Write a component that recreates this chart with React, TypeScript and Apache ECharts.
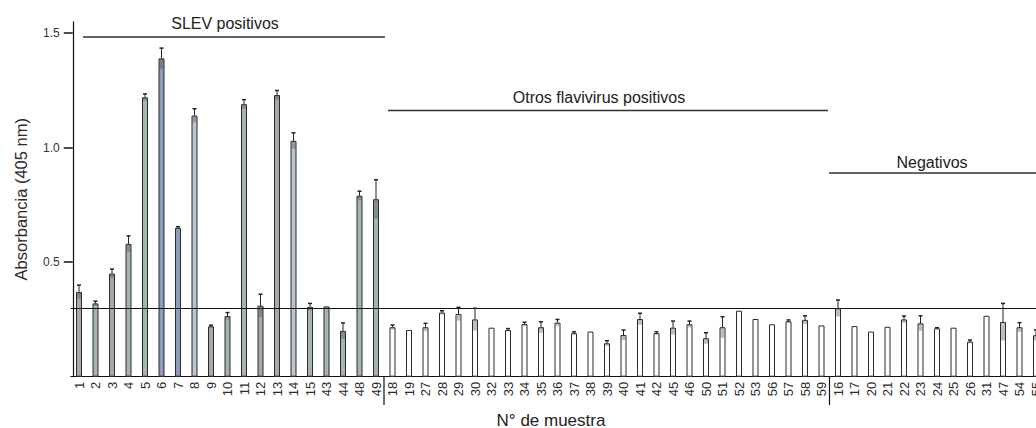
import React, { useEffect, useRef } from "react";
import * as echarts from "echarts";

// ---- data ----
const slevLabels = ["1","2","3","4","5","6","7","8","9","10","11","12","13","14","15","43","44","48","49"];
const slevValues = [0.37,0.32,0.45,0.58,1.22,1.39,0.65,1.14,0.22,0.265,1.19,0.31,1.23,1.03,0.305,0.307,0.20,0.79,0.775];
const slevErrors = [0.03,0.01,0.02,0.035,0.015,0.045,0.005,0.03,0.005,0.015,0.02,0.05,0.02,0.035,0.015,0,0.035,0.02,0.085];
const slevShades = ["gray","green","gray","green","green","blue","blue","light","gray","green","green","gray","gray","light","green","green","green","green","green"];

const otrosLabels = ["18","19","27","28","29","30","32","33","34","35","36","37","38","39","40","41","42","45","46","50","51","52","53","56","57","58","59"];
const otrosValues = [0.216,0.204,0.216,0.28,0.274,0.25,0.214,0.204,0.23,0.216,0.236,0.19,0.197,0.146,0.182,0.252,0.19,0.214,0.229,0.168,0.216,0.288,0.252,0.229,0.242,0.248,0.224];
const otrosErrors = [0.01,0,0.017,0.008,0.029,0.049,0,0.006,0.008,0.024,0.014,0.006,0,0.011,0.022,0.025,0.006,0.029,0.014,0.024,0.046,0,0,0,0.006,0.018,0];

const negLabels = ["16","17","20","21","22","23","24","25","26","31","47","54","55"];
const negValues = [0.299,0.221,0.197,0.218,0.25,0.233,0.211,0.214,0.153,0.266,0.239,0.216,0.181];
const negErrors = [0.036,0,0,0,0.015,0.033,0.003,0,0.007,0,0.081,0.02,0.023];

const cutoff = 0.3;
const yTicks = [0.5, 1.0, 1.5];
const groupNames = ["SLEV positivos", "Otros flavivirus positivos", "Negativos"];

const shadeColors: Record<string, string> = {
  green: "#a2b7aa",
  blue: "#8e9cb9",
  gray: "#a8a8a8",
  light: "#b9c5d1",
};

export default function App() {
  const ref = useRef<HTMLDivElement>(null);
  useEffect(() => {
    if (!ref.current) return;
    const chart = echarts.init(ref.current, null, { renderer: "svg" });
    const categories = [...slevLabels, ...otrosLabels, ...negLabels];
    const values = [...slevValues, ...otrosValues, ...negValues];
    const errors = [...slevErrors, ...otrosErrors, ...negErrors];
    const barData = values.map((v, i) => ({
      value: v,
      itemStyle: { color: i < slevLabels.length ? shadeColors[slevShades[i]] : "#ffffff" },
    }));
    const errData = values.map((v, i) => [i, v, errors[i]]);
    const font = "Liberation Sans, Arial, sans-serif";
    const textColor = "#222";
    const lineColor = "#333";

    chart.setOption({
      animation: false,
      backgroundColor: "#ffffff",
      grid: { left: 70.75, right: 15.75, top: 21.75, bottom: 51.3, containLabel: false, outerBoundsMode: "none" },
      xAxis: {
        type: "category",
        data: categories,
        boundaryGap: true,
        axisLine: { show: true, lineStyle: { color: "#111", width: 1 } },
        axisTick: { show: false },
        axisLabel: { interval: 0, rotate: 90, fontSize: 13, color: "#2a2a2a", fontFamily: font, margin: 5 },
        splitLine: { show: false },
      },
      yAxis: {
        type: "value",
        min: 0,
        max: 1.55,
        interval: 0.5,
        offset: -2,
        name: "Absorbancia (405 nm)",
        nameLocation: "middle",
        nameGap: 43,
        nameTextStyle: { fontSize: 16.5, color: "#2a2a2a", fontFamily: font },
        axisLine: { show: true, lineStyle: { color: "#111", width: 1.2 } },
        axisTick: { show: true, length: 9, customValues: yTicks, lineStyle: { color: "#111", width: 1.5 } },
        axisLabel: {
          customValues: yTicks,
          formatter: (v: number) => v.toFixed(1),
          fontSize: 12,
          color: "#333",
          fontFamily: font,
          margin: 13,
        },
        splitLine: { show: false },
      },
      series: [
        {
          type: "bar",
          data: barData,
          barWidth: 6,
          itemStyle: { borderColor: "#2b2b2b", borderWidth: 1 },
          markLine: {
            silent: true,
            symbol: "none",
            label: { show: false },
            lineStyle: { color: "#111", width: 1, type: "solid" },
            data: [{ yAxis: cutoff }],
          },
        },
        {
          type: "custom",
          data: errData,
          encode: { x: 0, y: 1 },
          z: 5,
          renderItem: (params: any, api: any) => {
            const idx = api.value(0);
            const v = api.value(1);
            const e = api.value(2);
            if (!e) return { type: "group", children: [] };
            const mid = api.coord([idx, v]);
            const top = api.coord([idx, v + e]);
            const bot = api.coord([idx, Math.max(0, v - e)]);
            return {
              type: "group",
              children: [
                {
                  type: "rect",
                  shape: { x: mid[0] - 2, y: mid[1], width: 4, height: bot[1] - mid[1] },
                  style: { fill: "rgba(70,70,70,0.35)" },
                },
                {
                  type: "line",
                  shape: { x1: top[0], y1: mid[1], x2: top[0], y2: top[1] },
                  style: { stroke: "#222", lineWidth: 1 },
                },
                {
                  type: "line",
                  shape: { x1: top[0] - 2, y1: top[1], x2: top[0] + 2, y2: top[1] },
                  style: { stroke: "#222", lineWidth: 1.5 },
                },
              ],
            };
          },
        },
      ],
      graphic: [
        { type: "line", shape: { x1: 83, y1: 37, x2: 385, y2: 37 }, style: { stroke: lineColor, lineWidth: 1.5 } },
        { type: "text", x: 225, y: 23, style: { text: groupNames[0], fontSize: 16, fill: textColor, fontFamily: font, align: "center", verticalAlign: "middle" } },
        { type: "line", shape: { x1: 388, y1: 110.5, x2: 828, y2: 110.5 }, style: { stroke: lineColor, lineWidth: 1.5 } },
        { type: "text", x: 599, y: 97, style: { text: groupNames[1], fontSize: 16, fill: textColor, fontFamily: font, align: "center", verticalAlign: "middle" } },
        { type: "line", shape: { x1: 829, y1: 173, x2: 1060, y2: 173 }, style: { stroke: lineColor, lineWidth: 1.5 } },
        { type: "text", x: 932, y: 162, style: { text: groupNames[2], fontSize: 16, fill: textColor, fontFamily: font, align: "center", verticalAlign: "middle" } },
        { type: "line", shape: { x1: 384, y1: 377, x2: 384, y2: 405 }, style: { stroke: "#111", lineWidth: 1.2 } },
        { type: "line", shape: { x1: 829.5, y1: 377, x2: 829.5, y2: 405 }, style: { stroke: "#111", lineWidth: 1.2 } },
        { type: "text", x: 551, y: 420, style: { text: "N° de muestra", fontSize: 17, fill: textColor, fontFamily: font, align: "center", verticalAlign: "middle" } },
      ],
    });
    return () => chart.dispose();
  }, []);

  return (
    <div style={{ position: "fixed", left: 0, top: 0, width: 1036, height: 428, overflow: "hidden", background: "#fff" }}>
      <div ref={ref} style={{ width: 1060, height: 428 }} />
    </div>
  );
}
